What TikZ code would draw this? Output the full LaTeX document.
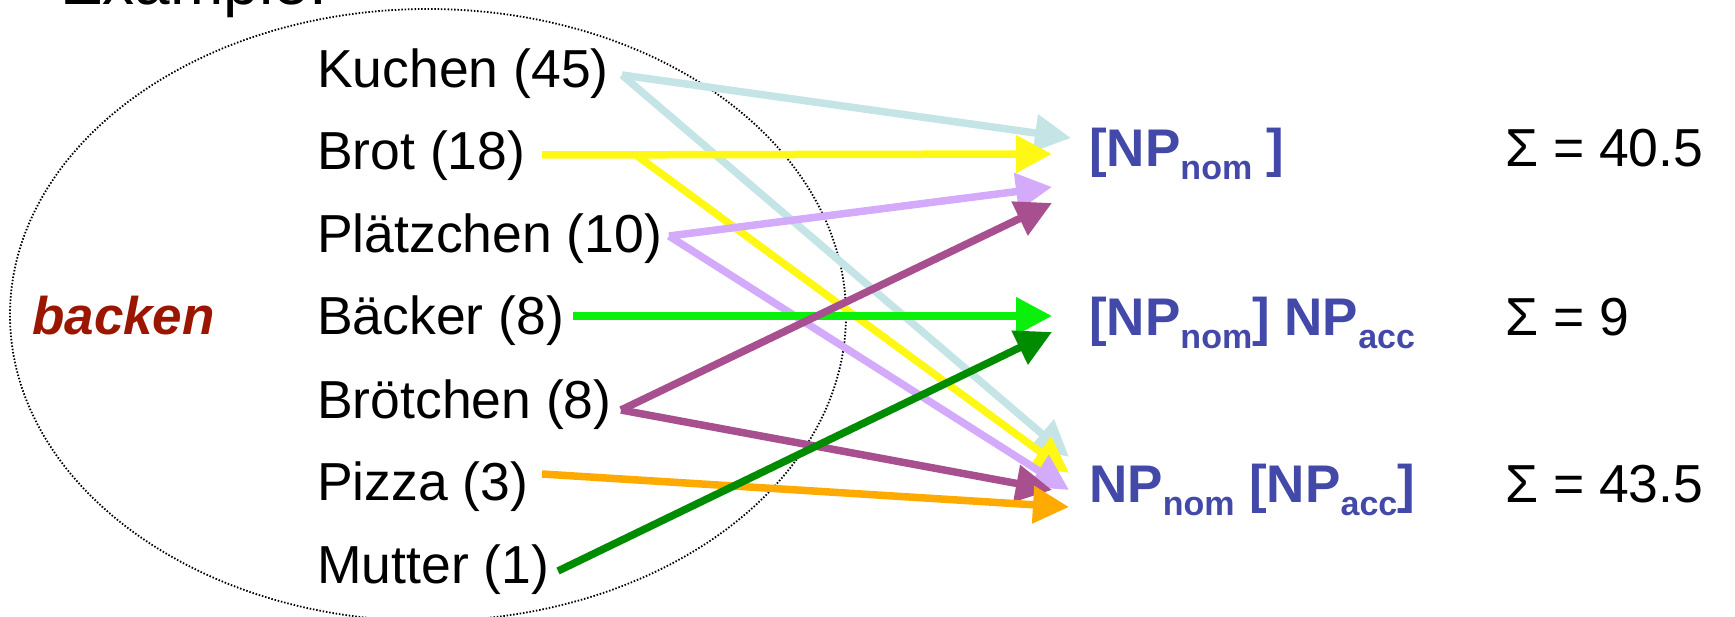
\documentclass[tikz,border=0pt]{standalone}
\usepackage{fontspec}
\setmainfont{Liberation Sans}
\usetikzlibrary{arrows.meta,shapes.geometric}

\definecolor{frameblue}{RGB}{67,73,168}
\definecolor{verbred}{RGB}{155,22,0}
\definecolor{cKuchen}{RGB}{196,228,230}
\definecolor{cBrot}{RGB}{255,248,20}
\definecolor{cPlaetzchen}{RGB}{212,170,250}
\definecolor{cBaecker}{RGB}{10,240,10}
\definecolor{cBroetchen}{RGB}{168,80,143}
\definecolor{cPizza}{RGB}{255,170,0}
\definecolor{cMutter}{RGB}{0,140,0}

\newcommand{\subsc}[1]{\raisebox{-13pt}{\fontsize{34}{34}\selectfont #1}}

\begin{document}
\begin{tikzpicture}[x=1pt,y=-1pt,
  word/.style={anchor=base west, inner sep=0pt, font=\fontsize{53.5}{60}\selectfont},
  frame/.style={word, font=\fontsize{53}{60}\selectfont\bfseries, text=frameblue},
  verb/.style={word, font=\fontsize{53}{60}\selectfont\bfseries\itshape, text=verbred},
  title/.style={anchor=base west, inner sep=0pt, font=\fontsize{64}{70}\selectfont},
  cluster/.style={draw=black, line width=1.8pt, dash pattern=on 1.5pt off 1.8pt},
  link/.style={line width=7.5pt, -{Triangle[length=36pt,width=36pt]}},
]
\useasboundingbox (0,0) rectangle (1735,617);

% heading, partly above the top edge
\node[title] (heading) at (60,5) {Example:};

% the verb and its cluster of nouns
\node[cluster, ellipse, minimum width=836pt, minimum height=612pt, inner sep=0pt] (group) at (428,315) {};
\node[verb] (backen) at (32,335) {backen};

\node[word] (kuchen)     at (317,88)  {Kuchen (45)};
\node[word] (brot)       at (317,170) {Brot (18)};
\node[word] (plaetzchen) at (317,253) {Plätzchen (10)};
\node[word] (baecker)    at (317,335) {Bäcker (8)};
\node[word] (broetchen)  at (317,418) {Brötchen (8)};
\node[word] (pizza)      at (317,500) {Pizza (3)};
\node[word] (mutter)     at (317,583) {Mutter (1)};

% subcategorisation frames and their totals
\node[frame] (fA) at (1089,167) {[NP\subsc{nom} ]};
\node[frame] (fB) at (1089,336) {[NP\subsc{nom}] NP\subsc{acc}};
\node[frame] (fC) at (1089,502) {NP\subsc{nom} [NP\subsc{acc}]};

\node[word] (sA) at (1505,167) {Σ = 40.5};
\node[word] (sB) at (1505,336) {Σ = 9};
\node[word] (sC) at (1505,502) {Σ = 43.5};

% line ends beside the nouns
\coordinate (pKuchen)     at (622,75);
\coordinate (pBrot)       at (542,155);
\coordinate (pBrotFork)   at (636,155);
\coordinate (pPlaetzchen) at (669,236);
\coordinate (pBaecker)    at (573,316);
\coordinate (pBroetchen)  at (621,410);
\coordinate (pPizza)      at (542,474);
\coordinate (pMutter)     at (558,571);

% arrow tips beside the frames
\coordinate (aKuchen)     at (1071,138);
\coordinate (aBrot)       at (1052,154);
\coordinate (aPlaetzchen) at (1052,187);
\coordinate (aBroetchen)  at (1052,203);
\coordinate (bBaecker)    at (1052,316);
\coordinate (bMutter)     at (1052,332);
\coordinate (cKuchenTip)  at (1069,457);
\coordinate (cBrotTip)    at (1069,473);
\coordinate (cPlaetzTip)  at (1069,490);
\coordinate (cBroetTip)   at (1052,490);
\coordinate (cPizzaTip)   at (1069,507);

\draw[link, cKuchen] (pKuchen) -- (aKuchen);
\draw[link, cKuchen] (pKuchen) -- (cKuchenTip);
\draw[link, cBrot] (pBrot) -- (aBrot);
\draw[link, cBrot] (pBrotFork) -- (cBrotTip);
\draw[link, cPlaetzchen] (pPlaetzchen) -- (aPlaetzchen);
\draw[link, cPlaetzchen] (pPlaetzchen) -- (cPlaetzTip);
\draw[link, cBaecker] (pBaecker) -- (bBaecker);
\draw[link, cBroetchen] (pBroetchen) -- (aBroetchen);
\draw[link, cBroetchen] (pBroetchen) -- (cBroetTip);
\draw[link, cPizza] (pPizza) -- (cPizzaTip);
\draw[link, cMutter] (pMutter) -- (bMutter);
\end{tikzpicture}
\end{document}
